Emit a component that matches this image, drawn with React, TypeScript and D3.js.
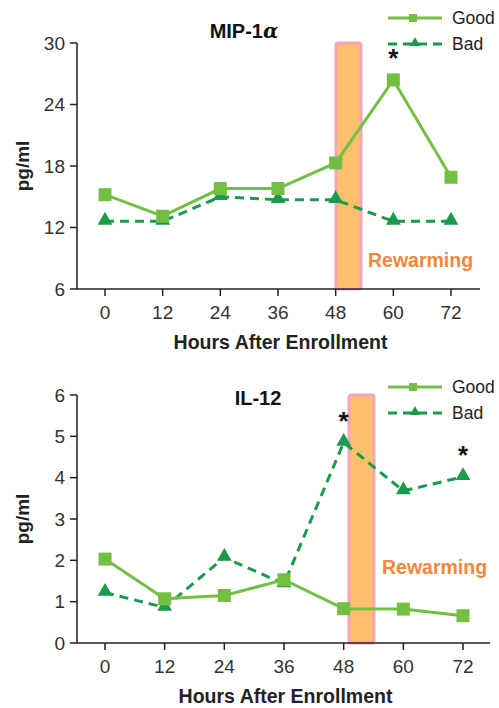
import React from "react";
import * as d3 from "d3";

const hours = [0, 12, 24, 36, 48, 60, 72];
const mipGood = [15.2, 13.1, 15.8, 15.8, 18.3, 26.4, 16.9];
const mipBad = [12.6, 12.6, 15.0, 14.7, 14.7, 12.6, 12.6];
const mipTicks = [6, 12, 18, 24, 30];
const mipStars = [60];
const ilGood = [2.03, 1.07, 1.15, 1.53, 0.83, 0.82, 0.66];
const ilBad = [1.22, 0.86, 2.07, 1.43, 4.85, 3.68, 4.02];
const ilTicks = [0, 1, 2, 3, 4, 5, 6];
const ilStars = [48, 72];

const GOOD = "#72bf44";
const BAD = "#1a9a4b";
const FONT = "Liberation Sans, Arial, sans-serif";

type PanelProps = {
  title: React.ReactNode;
  good: number[];
  bad: number[];
  ticks: number[];
  stars: number[];
  starSeries: number[];
  top: number;
  bottom: number;
  xStart: number;
  xEnd: number;
  axisEnd: number;
  band: [number, number];
  rewarmY: number;
  rewarmX: number;
  titleX: number;
  titleY: number;
  legendY: number;
};

function Panel(p: PanelProps) {
  const y = d3.scaleLinear().domain([p.ticks[0], p.ticks[p.ticks.length - 1]]).range([p.bottom, p.top]);
  const x = d3.scaleLinear().domain([0, 72]).range([p.xStart, p.xEnd]);
  const line = d3.line<number>().x((_, i) => x(hours[i])).y((d) => y(d));
  const tri = d3.symbol().type(d3.symbolTriangle).size(95)();
  const axisX = 77;
  return (
    <g>
      <text x={p.titleX} y={p.titleY} fontFamily={FONT} fontWeight="bold" fontSize={20} textAnchor="middle" fill="#111">
        {p.title}
      </text>
      {/* band */}
      <rect x={p.band[0]} y={p.top} width={p.band[1] - p.band[0]} height={p.bottom - p.top}
        fill="#fbbf6e" stroke="#f5a5b3" strokeWidth={3} rx={2} />
      <text x={p.rewarmX} y={p.rewarmY} fontFamily={FONT} fontWeight="bold" fontSize={19.5} fill="#f0873a">
        Rewarming
      </text>
      {/* axes */}
      <line x1={axisX} x2={axisX} y1={p.top} y2={p.bottom} stroke="#222" strokeWidth={1.5} />
      <line x1={axisX} x2={p.axisEnd} y1={p.bottom} y2={p.bottom} stroke="#222" strokeWidth={1.5} />
      {p.ticks.map((t) => (
        <g key={t}>
          <line x1={axisX - 7} x2={axisX} y1={y(t)} y2={y(t)} stroke="#222" strokeWidth={1.5} />
          <text x={axisX - 12} y={y(t)} dy="0.35em" textAnchor="end" fontFamily={FONT} fontSize={19} fill="#333">
            {t}
          </text>
        </g>
      ))}
      {hours.map((h) => (
        <g key={h}>
          <line x1={x(h)} x2={x(h)} y1={p.bottom} y2={p.bottom + 7} stroke="#222" strokeWidth={1.5} />
          <text x={x(h)} y={p.bottom + 23} dy="0.35em" textAnchor="middle" fontFamily={FONT} fontSize={19} fill="#333">
            {h}
          </text>
        </g>
      ))}
      <text x={(axisX + p.axisEnd) / 2 + 2} y={p.bottom + 60} textAnchor="middle" fontFamily={FONT} fontWeight="bold" fontSize={19.5} fill="#222">
        Hours After Enrollment
      </text>
      <text transform={`translate(29,${(p.top + p.bottom) / 2}) rotate(-90)`} textAnchor="middle" fontFamily={FONT} fontWeight="bold" fontSize={19} fill="#222">
        pg/ml
      </text>
      {/* series */}
      <path d={line(p.bad) || ""} fill="none" stroke={BAD} strokeWidth={3} strokeDasharray="9,6" />
      {p.bad.map((v, i) => (
        <path key={i} d={tri || ""} transform={`translate(${x(hours[i])},${y(v) - 1})`} fill={BAD} />
      ))}
      <path d={line(p.good) || ""} fill="none" stroke={GOOD} strokeWidth={3} />
      {p.good.map((v, i) => (
        <rect key={i} x={x(hours[i]) - 6.5} y={y(v) - 6.5} width={13} height={13} fill={GOOD} />
      ))}
      {p.stars.map((h, k) => {
        const i = hours.indexOf(h);
        return (
          <text key={k} x={x(h)} y={y(p.starSeries[i]) - 13} textAnchor="middle" fontFamily={FONT} fontWeight="bold" fontSize={26} fill="#111">
            *
          </text>
        );
      })}
      {/* legend */}
      <line x1={388} x2={442} y1={p.legendY} y2={p.legendY} stroke={GOOD} strokeWidth={3} />
      <rect x={409} y={p.legendY - 4} width={8} height={8} fill={GOOD} />
      <text x={452} y={p.legendY} dy="0.35em" fontFamily={FONT} fontSize={17.5} fill="#222">Good</text>
      <line x1={388} x2={442} y1={p.legendY + 26} y2={p.legendY + 26} stroke={BAD} strokeWidth={3} strokeDasharray="9,6" />
      <path d={d3.symbol().type(d3.symbolTriangle).size(45)() || ""} transform={`translate(415,${p.legendY + 25})`} fill={BAD} />
      <text x={452} y={p.legendY + 26} dy="0.35em" fontFamily={FONT} fontSize={17.5} fill="#222">Bad</text>
    </g>
  );
}

export default function App() {
  return (
    <svg width={499} height={708} style={{ position: "absolute", left: 0, top: 0, background: "#fff" }}>
      <Panel title={<>MIP-1<tspan fontFamily="DejaVu Serif, serif" fontStyle="italic">α</tspan></>}
        good={mipGood} bad={mipBad} ticks={mipTicks} stars={mipStars} starSeries={mipGood}
        top={43} bottom={289} xStart={105} xEnd={451} axisEnd={480} band={[336, 361]}
        rewarmX={368} rewarmY={267} titleX={244} titleY={38} legendY={18} />
      <Panel title="IL-12" good={ilGood} bad={ilBad} ticks={ilTicks} stars={ilStars} starSeries={ilBad}
        top={395} bottom={643} xStart={105} xEnd={463} axisEnd={490} band={[349, 374]}
        rewarmX={382} rewarmY={574} titleX={258} titleY={405} legendY={387} />
    </svg>
  );
}
